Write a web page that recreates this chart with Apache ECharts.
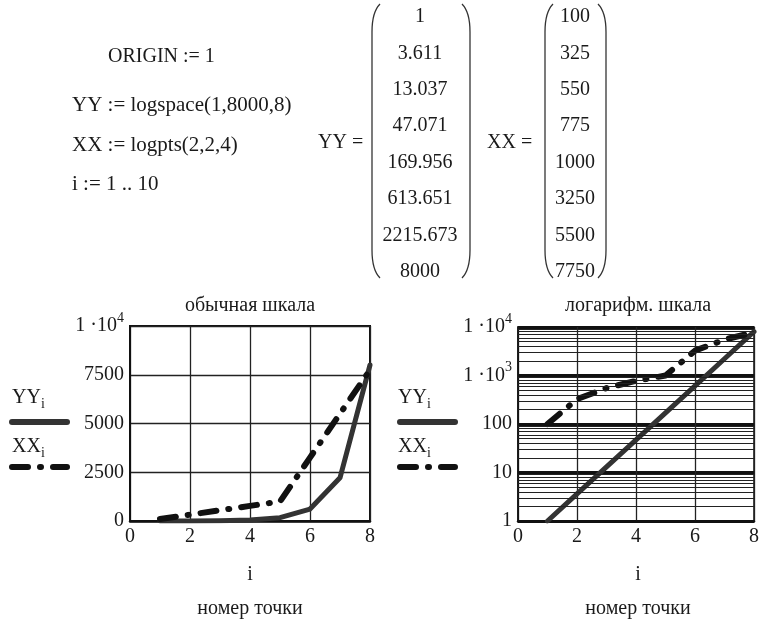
<!DOCTYPE html>
<html><head><meta charset="utf-8">
<script src="https://cdn.jsdelivr.net/npm/echarts@6/dist/echarts.min.js"></script>
<style>html,body{margin:0;padding:0;background:#fff}#c{width:762px;height:619px}</style>
</head><body><div id="c"></div>
<script>
// ---- data ----
const pointIndex = [1, 2, 3, 4, 5, 6, 7, 8];
const YY = [1, 3.611, 13.037, 47.071, 169.956, 613.651, 2215.673, 8000];
const XX = [100, 325, 550, 775, 1000, 3250, 5500, 7750];
const xTicks = [0, 2, 4, 6, 8];
const linTicks = [0, 2500, 5000, 7500, 10000];
const logTicks = [1, 10, 100, 1000, 10000];
const definitions = ['ORIGIN := 1', 'YY := logspace(1,8000,8)', 'XX := logpts(2,2,4)', 'i := 1 .. 10'];
const titles = ['обычная шкала', 'логарифм. шкала'];
const xName = 'i';
const xDesc = 'номер точки';

// ---- styling ----
const FF = '"Liberation Serif","DejaVu Serif",serif';
const TXT = '#1a1a1a';
const FS = 20;
const dashDot = [16, 12, 1, 12];

const yyData = pointIndex.map((x, k) => [x, YY[k]]);
const xxData = pointIndex.map((x, k) => [x, XX[k]]);

// minor log grid lines (2..9 within each decade)
const minorLog = [];
for (let d = 0; d < 4; d++) for (let m = 2; m <= 9; m++) minorLog.push({ yAxis: m * Math.pow(10, d) });

const sciRich = {
  m: { fontFamily: FF, fontSize: FS, color: TXT },
  s: { fontFamily: FF, fontSize: 14, color: TXT, padding: [0, 0, 16, 0] }
};
function linLabel(v) {
  if (v === 10000) return '{m|1 ·10}{s|4}';
  return '{m|' + v + '}';
}
function logLabel(v) {
  if (v === 10000) return '{m|1 ·10}{s|4}';
  if (v === 1000) return '{m|1 ·10}{s|3}';
  return '{m|' + v + '}';
}

const graphics = [];
function txt(x, y, text, opts) {
  graphics.push({
    type: 'text', x: x, y: y, silent: true,
    style: Object.assign({ text: text, font: FS + 'px ' + FF, fill: TXT, textAlign: 'left', textVerticalAlign: 'middle' }, opts || {})
  });
}
// definitions block
const defPos = [[108, 57], [72, 105], [72, 145], [72, 184]];
definitions.forEach((d, k) => txt(defPos[k][0], defPos[k][1], d, k ? { font: '21px ' + FF } : {}));
txt(318, 143, 'YY =');
txt(487, 143, 'XX =');
// matrices
YY.forEach((v, k) => txt(420, 17 + 36.4 * k, String(v), { textAlign: 'center' }));
XX.forEach((v, k) => txt(575, 17 + 36.4 * k, String(v), { textAlign: 'center' }));
function paren(x, dir) {
  const t = 4, b = 278, c = x + dir * 8;
  const st = { fill: 'none', stroke: '#333', lineWidth: 1.3 };
  graphics.push({ type: 'bezierCurve', silent: true, shape: { x1: c, y1: t, cpx1: x, cpy1: t + 8, x2: x, y2: t + 28 }, style: st });
  graphics.push({ type: 'line', silent: true, shape: { x1: x, y1: t + 28, x2: x, y2: b - 28 }, style: st });
  graphics.push({ type: 'bezierCurve', silent: true, shape: { x1: x, y1: b - 28, cpx1: x, cpy1: b - 8, x2: c, y2: b }, style: st });
}
paren(372, 1); paren(470, -1); paren(545, 1); paren(606, -1);

// chart texts
const centers = [250, 638];
titles.forEach((t, k) => txt(centers[k], 306, t, { textAlign: 'center' }));
centers.forEach(c => { txt(c, 575, xName, { textAlign: 'center' }); txt(c, 609, xDesc, { textAlign: 'center' }); });

// legend-like labels
const subRich = {
  m: { fontFamily: FF, fontSize: FS, fill: TXT },
  s: { fontFamily: FF, fontSize: 14, fill: TXT, padding: [12, 0, 0, 0] }
};
[[12, 9, 70], [398, 397, 458]].forEach(p => {
  graphics.push({ type: 'text', x: p[0], y: 398, silent: true, style: { text: '{m|YY}{s|i}', rich: subRich, textVerticalAlign: 'middle' } });
  graphics.push({ type: 'text', x: p[0], y: 447, silent: true, style: { text: '{m|XX}{s|i}', rich: subRich, textVerticalAlign: 'middle' } });
  graphics.push({ type: 'line', silent: true, shape: { x1: p[1] + 3, y1: 422, x2: p[2] - 3, y2: 422 }, style: { stroke: '#333', lineWidth: 6, lineCap: 'round' } });
  graphics.push({ type: 'line', silent: true, shape: { x1: p[1] + 3, y1: 467, x2: p[2] - 3, y2: 467 }, style: { stroke: '#111', lineWidth: 6, lineCap: 'round', lineDash: dashDot } });
});

const chart = echarts.init(document.getElementById('c'), null, { renderer: 'canvas' });
const axisLabelBase = { fontFamily: FF, fontSize: FS, color: TXT };
chart.setOption({
  animation: false,
  backgroundColor: '#fff',
  grid: [
    { left: 130, top: 326, width: 240, height: 195, show: true, borderColor: '#111', borderWidth: 2, backgroundColor: 'transparent' },
    { left: 518, top: 327, width: 239, height: 194, show: true, borderColor: '#111', borderWidth: 1.5, backgroundColor: 'transparent' }
  ],
  xAxis: [0, 1].map(g => ({
    gridIndex: g, type: 'value', min: xTicks[0], max: xTicks[xTicks.length - 1], interval: 2,
    axisLine: { show: true, lineStyle: { color: '#111', width: 2.5 } },
    axisTick: { show: false },
    axisLabel: Object.assign({ margin: 6 }, axisLabelBase),
    splitLine: { show: true, lineStyle: { color: '#222', width: 1.3 } }
  })),
  yAxis: [
    {
      gridIndex: 0, type: 'value', min: linTicks[0], max: linTicks[linTicks.length - 1], interval: 2500,
      axisLine: { show: true, lineStyle: { color: '#111', width: 2 } },
      axisTick: { show: false },
      axisLabel: { margin: 6, formatter: linLabel, rich: sciRich },
      splitLine: { show: true, lineStyle: { color: '#222', width: 1.3 } }
    },
    {
      gridIndex: 1, type: 'log', logBase: 10, min: logTicks[0], max: logTicks[logTicks.length - 1],
      axisLine: { show: true, lineStyle: { color: '#111', width: 1.5 } },
      axisTick: { show: false },
      axisLabel: { margin: 6, formatter: logLabel, rich: sciRich },
      splitLine: { show: true, lineStyle: { color: '#111', width: 3 } }
    }
  ],
  series: [
    { type: 'line', xAxisIndex: 0, yAxisIndex: 0, data: yyData, showSymbol: false, z: 3,
      lineStyle: { color: '#333', width: 5, cap: 'round', join: 'round' } },
    { type: 'line', xAxisIndex: 0, yAxisIndex: 0, data: xxData, showSymbol: false, z: 4,
      lineStyle: { color: '#111', width: 6, type: dashDot, cap: 'round', join: 'round' } },
    { type: 'line', xAxisIndex: 1, yAxisIndex: 1, data: yyData, showSymbol: false, z: 3,
      lineStyle: { color: '#333', width: 5, cap: 'round', join: 'round' },
      markLine: { silent: true, symbol: ['none', 'none'], label: { show: false }, animation: false,
        lineStyle: { color: '#222', width: 1, type: 'solid' }, emphasis: { disabled: true }, data: minorLog } },
    { type: 'line', xAxisIndex: 1, yAxisIndex: 1, data: xxData, showSymbol: false, z: 4,
      lineStyle: { color: '#111', width: 6, type: dashDot, cap: 'round', join: 'round' } }
  ],
  graphic: graphics
});
</script></body></html>
